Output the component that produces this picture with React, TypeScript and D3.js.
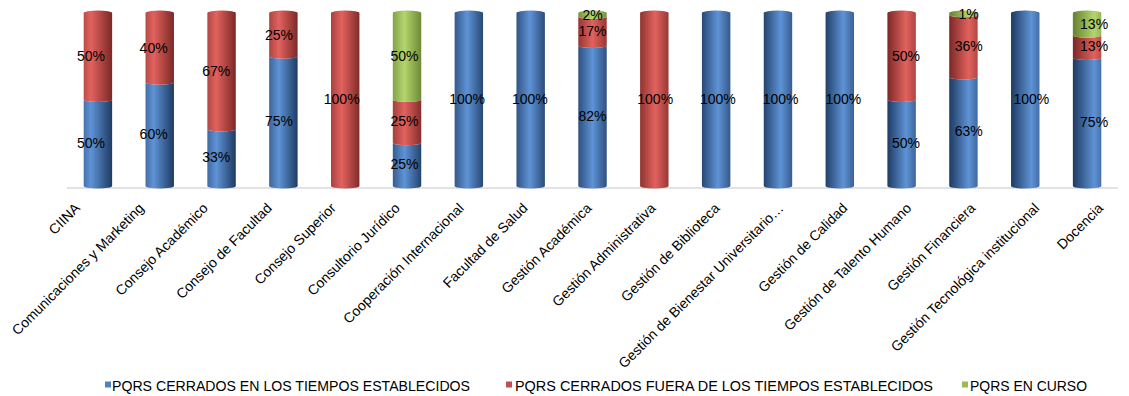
import React from "react";
import * as d3 from "d3";

const categories = [
  "CIINA",
  "Comunicaciones y Marketing",
  "Consejo Académico",
  "Consejo de Facultad",
  "Consejo Superior",
  "Consultorio Jurídico",
  "Cooperación Internacional",
  "Facultad de Salud",
  "Gestión Académica",
  "Gestión Administrativa",
  "Gestión de Biblioteca",
  "Gestión de Bienestar Universitario…",
  "Gestión de Calidad",
  "Gestión de Talento Humano",
  "Gestión Financiera",
  "Gestión Tecnológica institucional",
  "Docencia",
];

const closedOnTime = [50, 60, 33, 75, 0, 25, 100, 100, 82, 0, 100, 100, 100, 50, 63, 100, 75];
const closedLate = [50, 40, 67, 25, 100, 25, 0, 0, 17, 100, 0, 0, 0, 50, 36, 0, 13];
const inProgress = [0, 0, 0, 0, 0, 50, 0, 0, 2, 0, 0, 0, 0, 0, 1, 0, 13];

const seriesNames = [
  "PQRS CERRADOS EN LOS TIEMPOS ESTABLECIDOS",
  "PQRS CERRADOS FUERA DE LOS TIEMPOS ESTABLECIDOS",
  "PQRS EN CURSO",
];
const seriesKeys = ["onTime", "late", "inProgress"];

const palette = [
  { base: "#4F81BD", light: "#5E93D6", dark: "#1E3A62" },
  { base: "#C0504D", light: "#E2625E", dark: "#7A2826" },
  { base: "#9BBB59", light: "#B3D56D", dark: "#66812F" },
];

const W = 1129;
const H = 396;
const FONT = "'Liberation Sans', Arial, sans-serif";

export default function App() {
  const rows = categories.map((c, i) => ({
    cat: c,
    onTime: closedOnTime[i],
    late: closedLate[i],
    inProgress: inProgress[i],
  }));
  const stack = d3.stack<any>().keys(seriesKeys).offset(d3.stackOffsetExpand);
  const stacked = stack(rows);

  const x = d3.scaleBand<string>().domain(categories).range([67, 1118]).padding(0);
  const y = d3.scaleLinear().domain([0, 1]).range([186, 13]);
  const barW = x.bandwidth() * 0.46;
  const rx = barW / 2;
  const ry = 2.5;
  const n = categories.length;

  const mix = (a: string, b: string, t: number) => d3.interpolateRgb(a, b)(Math.max(0, Math.min(1, t)));

  const defs: JSX.Element[] = [];
  categories.forEach((c, i) => {
    const t = i / (n - 1);
    const h = 0.25 + 0.5 * t;
    palette.forEach((p, s) => {
      defs.push(
        <linearGradient key={`g-${s}-${i}`} id={`g-${s}-${i}`} x1="0" x2="1" y1="0" y2="0">
          <stop offset="0" stopColor={mix(p.light, p.dark, h * 1.5)} />
          <stop offset={h} stopColor={p.light} />
          <stop offset="1" stopColor={mix(p.light, p.dark, (1 - h) * 1.5)} />
        </linearGradient>
      );
    });
  });

  const segs: JSX.Element[] = [];
  const labels: JSX.Element[] = [];
  stacked.forEach((layer, s) => {
    layer.forEach((d, i) => {
      const v0 = d[0];
      const v1 = d[1];
      if (v1 - v0 <= 0) return;
      const cx = (x(categories[i]) as number) + x.bandwidth() / 2;
      const x0 = cx - rx;
      const x1 = cx + rx;
      const yb = y(v0);
      const yt = y(v1);
      const isTop = v1 >= 0.9999;
      const path =
        `M${x0},${yt} A${rx},${ry} 0 0 ${isTop ? 1 : 0} ${x1},${yt} ` +
        `L${x1},${yb} A${rx},${ry} 0 0 1 ${x0},${yb} Z`;
      segs.push(<path key={`s-${s}-${i}`} d={path} fill={`url(#g-${s}-${i})`} />);
      const raw = [closedOnTime, closedLate, inProgress][s][i];
      const off = -7 + (14 * i) / (n - 1);
      labels.push(
        <text
          key={`l-${s}-${i}`}
          x={cx + off}
          y={(yb + yt) / 2}
          dy="0.35em"
          textAnchor="middle"
          fontSize={14}
          fill="#000"
          fontFamily={FONT}
        >
          {`${raw}%`}
        </text>
      );
    });
  });

  const legendItems = [
    { sq: 105, tx: 112, w: 358 },
    { sq: 506, tx: 515, w: 418 },
    { sq: 962, tx: 970, w: 117 },
  ];

  return (
    <svg
      width={W}
      height={H}
      style={{ position: "absolute", left: 0, top: 0, background: "#fff" }}
      fontFamily={FONT}
    >
      <defs>{defs}</defs>
      <rect x={0} y={0} width={W} height={H} fill="#fff" />
      <line x1={67} x2={1118} y1={188} y2={188} stroke="#D9D9D9" strokeWidth={1.5} />
      {segs}
      {labels}
      {categories.map((c, i) => {
        const cx = (x(c) as number) + x.bandwidth() / 2;
        const t = i / (n - 1);
        const ax = cx - 17 + 34 * t;
        const ay = 209;
        return (
          <text
            key={`c-${i}`}
            x={ax}
            y={ay}
            textAnchor="end"
            fontSize={14}
            fill="#000"
            transform={`rotate(-45 ${ax} ${ay})`}
          >
            {c}
          </text>
        );
      })}
      {seriesNames.map((nm, s) => (
        <g key={`lg-${s}`}>
          <rect x={legendItems[s].sq} y={381.5} width={6} height={6} fill={palette[s].base} />
          <text
            x={legendItems[s].tx}
            y={391}
            fontSize={14}
            fill="#000"
            textLength={legendItems[s].w}
            lengthAdjust="spacingAndGlyphs"
          >
            {nm}
          </text>
        </g>
      ))}
    </svg>
  );
}
